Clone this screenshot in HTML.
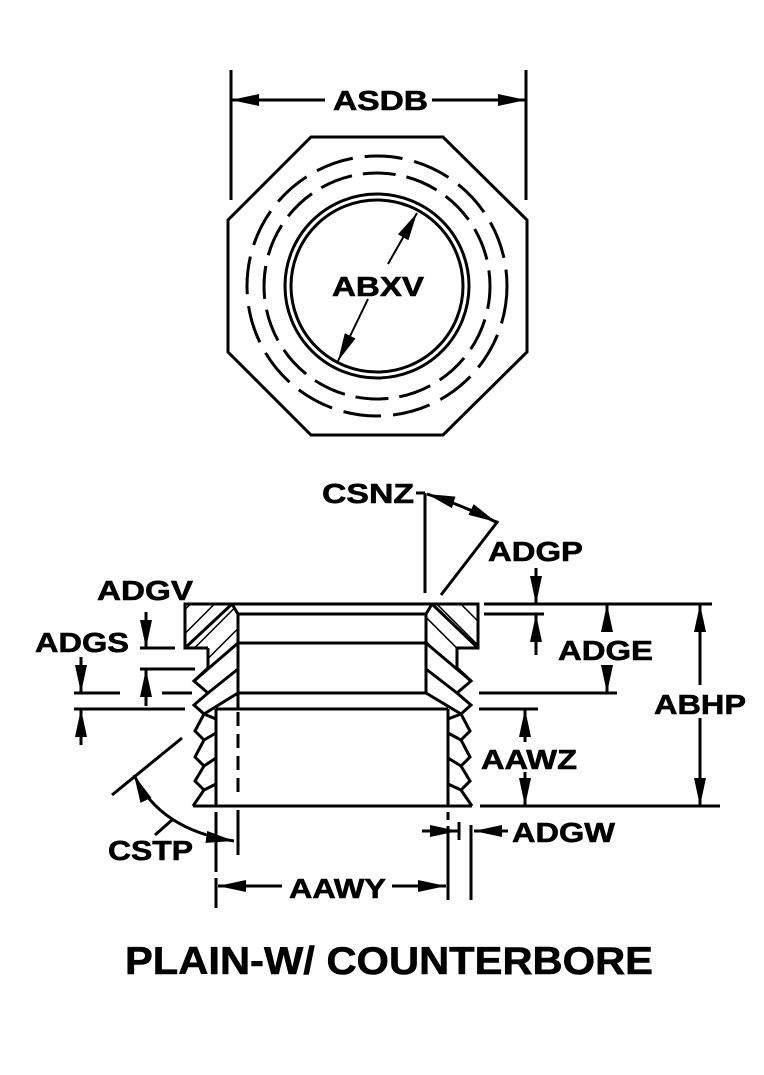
<!DOCTYPE html>
<html><head><meta charset="utf-8"><style>
html,body{margin:0;padding:0;background:#fff}
svg{display:block}
text{font-family:"Liberation Sans",sans-serif;font-weight:bold;fill:#000;stroke:#000;stroke-width:0.6}
</style></head><body>
<svg width="764" height="1075" viewBox="0 0 764 1075" xmlns="http://www.w3.org/2000/svg">
<defs>
<marker id="a" viewBox="0 0 10 10" preserveAspectRatio="none" refX="10" refY="5" markerWidth="28" markerHeight="12" markerUnits="userSpaceOnUse" orient="auto-start-reverse"><path d="M0,0 L10,5 L0,10 z" fill="#000"/></marker>
<pattern id="h" width="17" height="17" patternUnits="userSpaceOnUse" patternTransform="rotate(45)"><line x1="0" y1="0" x2="0" y2="17" stroke="#000" stroke-width="3"/></pattern>
<pattern id="h2" width="17" height="17" patternUnits="userSpaceOnUse" patternTransform="rotate(-45)"><line x1="0" y1="0" x2="0" y2="17" stroke="#000" stroke-width="3"/></pattern>
</defs>
<g stroke="#000" stroke-width="3" fill="none">
<line x1="231" y1="70" x2="231" y2="200"/>
<line x1="526" y1="70" x2="526" y2="200"/>
<line x1="231" y1="100" x2="325" y2="100" marker-start="url(#a)"/>
<line x1="432" y1="100" x2="526" y2="100" marker-end="url(#a)"/>
<polygon points="311,137 443,137 527,220 527,352 443,435 311,435 228,352 228,220"/>
<circle cx="377" cy="286" r="92"/>
<circle cx="377" cy="286" r="86"/>
<circle cx="377" cy="286" r="130" stroke-dasharray="38,12"/>
<circle cx="377" cy="286" r="113" stroke-dasharray="33,11" stroke-dashoffset="10"/>
<line x1="388" y1="264" x2="417" y2="213" stroke-width="2" marker-end="url(#a)"/>
<line x1="368" y1="299" x2="338" y2="361" stroke-width="2" marker-end="url(#a)"/>

<polygon points="185,604 232,604 238,614 238,643 208,668 208,648 185,648" fill="url(#h)" stroke="none"/>
<polygon points="432,604 478,604 478,648 457,648 457,668 426,643 426,614" fill="url(#h2)" stroke="none"/>
<polyline points="208,648 185,648 185,604 478,604 478,648 457,648 457,668"/>
<line x1="238" y1="614" x2="426" y2="614"/>
<line x1="238" y1="643" x2="426" y2="643"/>
<line x1="238" y1="693" x2="426" y2="693"/>
<line x1="216" y1="709" x2="448" y2="709"/>
<line x1="238" y1="614" x2="238" y2="709"/>
<line x1="426" y1="614" x2="426" y2="693"/>
<line x1="232" y1="604" x2="238" y2="614"/>
<line x1="432" y1="604" x2="426" y2="614"/>
<line x1="216" y1="709" x2="216" y2="806"/>
<line x1="448" y1="709" x2="448" y2="806"/>
<line x1="193" y1="806" x2="472" y2="806"/>
<line x1="208" y1="648" x2="208" y2="668"/>
<polyline points="208,668 194,681 208,693 194,705 204,714 195,731 204,740 195,757 204,766 195,781 204,790 193,806"/>
<line x1="232" y1="604" x2="185" y2="648"/>
<line x1="238" y1="643" x2="194" y2="681"/>
<line x1="238" y1="669" x2="208" y2="693"/>
<line x1="238" y1="693" x2="204" y2="714"/>
<line x1="216" y1="719" x2="204" y2="714"/>
<line x1="216" y1="733" x2="204" y2="740"/>
<line x1="216" y1="758" x2="204" y2="766"/>
<line x1="216" y1="784" x2="204" y2="790"/>
<polyline points="457,668 471,681 457,693 471,705 461,714 470,731 461,740 470,757 461,766 470,781 461,790 472,806"/>
<line x1="432" y1="604" x2="478" y2="648"/>
<line x1="426" y1="643" x2="471" y2="681"/>
<line x1="426" y1="669" x2="457" y2="693"/>
<line x1="426" y1="693" x2="461" y2="714"/>
<line x1="448" y1="719" x2="461" y2="714"/>
<line x1="448" y1="733" x2="461" y2="740"/>
<line x1="448" y1="758" x2="461" y2="766"/>
<line x1="448" y1="784" x2="461" y2="790"/>
<line x1="238" y1="712" x2="238" y2="800" stroke-dasharray="14,8"/>
<line x1="238" y1="810" x2="238" y2="855"/>
<line x1="216" y1="812" x2="216" y2="908" stroke-dasharray="60,6"/>
<line x1="448" y1="812" x2="448" y2="900" stroke-dasharray="8,6,80,0"/>
<line x1="471" y1="825" x2="471" y2="900"/>
<line x1="459" y1="822" x2="459" y2="840"/>

<line x1="484" y1="604" x2="712" y2="604"/>
<line x1="484" y1="614" x2="544" y2="614"/>
<line x1="479" y1="693" x2="617" y2="693"/>
<line x1="479" y1="709" x2="538" y2="709"/>
<line x1="480" y1="806" x2="720" y2="806"/>
<line x1="536" y1="568" x2="536" y2="604" marker-end="url(#a)"/>
<line x1="536" y1="655" x2="536" y2="614" marker-end="url(#a)"/>
<line x1="607" y1="632" x2="607" y2="604" marker-end="url(#a)"/>
<line x1="607" y1="666" x2="607" y2="693" marker-end="url(#a)"/>
<line x1="700" y1="685" x2="700" y2="604" marker-end="url(#a)"/>
<line x1="700" y1="718" x2="700" y2="806" marker-end="url(#a)"/>
<line x1="525" y1="742" x2="525" y2="709" marker-end="url(#a)"/>
<line x1="525" y1="772" x2="525" y2="806" marker-end="url(#a)"/>
<line x1="422" y1="831" x2="458" y2="831" marker-end="url(#a)"/>
<line x1="508" y1="831" x2="474" y2="831" marker-end="url(#a)"/>
<line x1="282" y1="886" x2="218" y2="886" marker-end="url(#a)"/>
<line x1="392" y1="886" x2="446" y2="886" marker-end="url(#a)"/>
<line x1="416" y1="493" x2="425" y2="493"/>
<line x1="425" y1="493" x2="425" y2="593"/>
<path d="M427,494 Q462,505 496,522" marker-start="url(#a)" marker-end="url(#a)"/>
<line x1="498" y1="521" x2="441" y2="595"/>
<line x1="140" y1="648" x2="175" y2="648"/>
<line x1="140" y1="669" x2="195" y2="669"/>
<line x1="74" y1="693" x2="120" y2="693"/>
<line x1="162" y1="693" x2="192" y2="693"/>
<line x1="74" y1="709" x2="185" y2="709"/>
<line x1="146" y1="612" x2="146" y2="648" marker-end="url(#a)"/>
<line x1="146" y1="706" x2="146" y2="669" marker-end="url(#a)"/>
<line x1="81" y1="657" x2="81" y2="693" marker-end="url(#a)"/>
<line x1="81" y1="745" x2="81" y2="709" marker-end="url(#a)"/>
<line x1="112" y1="795" x2="182" y2="738"/>
<path d="M134,775 Q160,830 234,841" marker-start="url(#a)" marker-end="url(#a)"/>
<line x1="155" y1="835" x2="172" y2="820"/>
</g>
<g font-size="28">
<text x="333" y="110" textLength="95" lengthAdjust="spacingAndGlyphs">ASDB</text>
<text x="332" y="296" textLength="92" lengthAdjust="spacingAndGlyphs">ABXV</text>
<text x="322" y="503" textLength="92" lengthAdjust="spacingAndGlyphs">CSNZ</text>
<text x="488" y="561" textLength="95" lengthAdjust="spacingAndGlyphs">ADGP</text>
<text x="97" y="600" textLength="96" lengthAdjust="spacingAndGlyphs">ADGV</text>
<text x="35" y="652" textLength="94" lengthAdjust="spacingAndGlyphs">ADGS</text>
<text x="558" y="660" textLength="95" lengthAdjust="spacingAndGlyphs">ADGE</text>
<text x="654" y="714" textLength="92" lengthAdjust="spacingAndGlyphs">ABHP</text>
<text x="481" y="769" textLength="96" lengthAdjust="spacingAndGlyphs">AAWZ</text>
<text x="108" y="860" textLength="85" lengthAdjust="spacingAndGlyphs">CSTP</text>
<text x="512" y="842" textLength="103" lengthAdjust="spacingAndGlyphs">ADGW</text>
<text x="289" y="898" textLength="97" lengthAdjust="spacingAndGlyphs">AAWY</text>
</g>
<text x="125" y="974" font-size="39" textLength="528" lengthAdjust="spacingAndGlyphs">PLAIN-W/ COUNTERBORE</text>
</svg>
</body></html>
